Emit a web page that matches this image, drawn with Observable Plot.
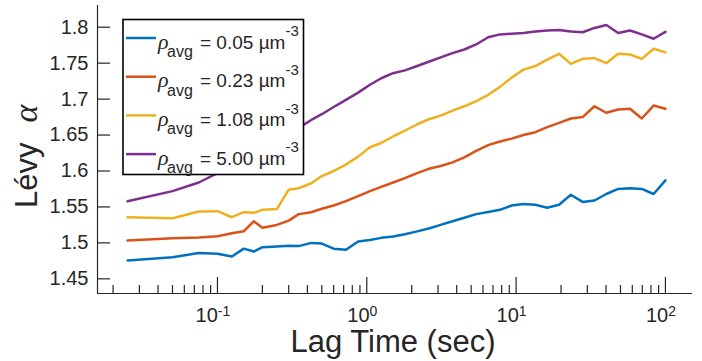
<!DOCTYPE html>
<html>
<head>
<meta charset="utf-8">
<script src="https://cdn.jsdelivr.net/npm/d3@7"></script>
<script src="https://cdn.jsdelivr.net/npm/@observablehq/plot@0.6"></script>
<style>
  html, body { margin: 0; padding: 0; background: #fff; }
  #chart svg { display: block; }
</style>
</head>
<body>
<div id="chart"></div>
<script>
// Lag times (s) at which the Lévy exponent was estimated
const lagTime = [0.025, 0.05, 0.075, 0.1, 0.125, 0.15, 0.175, 0.2, 0.25, 0.3, 0.35, 0.425,
  0.5, 0.6, 0.725, 0.875, 1.05, 1.25, 1.5, 1.8, 2.175, 2.6, 3.125, 3.75, 4.5, 5.4, 6.5,
  7.8, 9.35, 11.2, 13.45, 16.15, 19.4, 23.25, 27.9, 33.5, 40.2, 48.25, 57.9, 69.45, 83.35, 100];

// Average densities (µm^-3), one curve each
const densities = ["0.05", "0.23", "1.08", "5.00"];

const alphaRho005 = [1.4755, 1.480, 1.486, 1.485, 1.481, 1.492, 1.488, 1.494, 1.495, 1.496, 1.4955, 1.500,
  1.499, 1.492, 1.4905, 1.502, 1.504, 1.507, 1.509, 1.512, 1.516, 1.520, 1.525, 1.530, 1.535, 1.540, 1.543,
  1.546, 1.552, 1.554, 1.553, 1.549, 1.553, 1.567, 1.557, 1.559, 1.568, 1.575, 1.576, 1.575, 1.568, 1.587];

const alphaRho023 = [1.5033, 1.5065, 1.5075, 1.5093, 1.5135, 1.5162, 1.530, 1.521, 1.525, 1.531, 1.540, 1.5427,
  1.5474, 1.552, 1.558, 1.565, 1.572, 1.578, 1.584, 1.590, 1.597, 1.603, 1.607, 1.612, 1.619, 1.628, 1.636,
  1.641, 1.645, 1.650, 1.654, 1.661, 1.667, 1.673, 1.675, 1.690, 1.681, 1.6855, 1.6865, 1.673, 1.691, 1.6865];

const alphaRho108 = [1.5357, 1.5343, 1.5437, 1.5441, 1.5357, 1.5427, 1.5418, 1.546, 1.547, 1.574, 1.576, 1.583,
  1.593, 1.600, 1.609, 1.620, 1.633, 1.639, 1.648, 1.656, 1.665, 1.672, 1.677, 1.684, 1.690, 1.697, 1.706,
  1.717, 1.730, 1.741, 1.746, 1.755, 1.763, 1.749, 1.756, 1.757, 1.750, 1.763, 1.762, 1.756, 1.770, 1.765];

const alphaRho500 = [1.558, 1.572, 1.584, 1.597, 1.606, 1.614, 1.621, 1.627, 1.639, 1.650, 1.660, 1.671,
  1.679, 1.689, 1.699, 1.709, 1.720, 1.729, 1.736, 1.740, 1.746, 1.752, 1.758, 1.764, 1.769, 1.776, 1.786,
  1.790, 1.791, 1.792, 1.794, 1.7955, 1.796, 1.794, 1.793, 1.799, 1.803, 1.792, 1.7955, 1.790, 1.784, 1.7936];

const seriesColors = ["#0072BD", "#D95319", "#EDB120", "#7E2F8E"];

// Axis ticks and labels
const yTicks = [1.45, 1.5, 1.55, 1.6, 1.65, 1.7, 1.75, 1.8];
const xMajorTicks = [0.1, 1, 10, 100];
const xTickLabels = ["10^-1", "10^0", "10^1", "10^2"];
const xMinorTicks = [0.02, 0.03, 0.04, 0.05, 0.06, 0.07, 0.08, 0.09,
  0.2, 0.3, 0.4, 0.5, 0.6, 0.7, 0.8, 0.9,
  2, 3, 4, 5, 6, 7, 8, 9,
  20, 30, 40, 50, 60, 70, 80, 90];
const xDomain = [0.01573, 151.8];
const yDomain = [1.4296, 1.8302];

const ink = "#262626";
const sans = "'Liberation Sans', Arial, Helvetica, sans-serif";
const serif = "'Liberation Serif', 'Times New Roman', serif";

// Long-format table for the line mark
const seriesValues = [alphaRho005, alphaRho023, alphaRho108, alphaRho500];
const rows = [];
densities.forEach((rho, s) => {
  lagTime.forEach((t, i) => rows.push({t, alpha: seriesValues[s][i], rho}));
});

const W = 702, H = 361;
const mL = 97, mR = 10, mT = 5, mB = 68;
const frameW = W - mL - mR, frameH = H - mT - mB;

const plot = Plot.plot({
  width: W,
  height: H,
  marginLeft: mL,
  marginRight: mR,
  marginTop: mT,
  marginBottom: mB,
  style: {fontFamily: sans, color: ink, background: "white", overflow: "visible"},
  x: {type: "log", domain: xDomain},
  y: {domain: yDomain},
  color: {domain: densities, range: seriesColors},
  marks: [
    Plot.line(rows, {x: "t", y: "alpha", stroke: "rho", strokeWidth: 2.5}),
    // axis lines
    Plot.ruleX([xDomain[0]], {stroke: ink, strokeWidth: 1.2}),
    Plot.ruleY([yDomain[0]], {stroke: ink, strokeWidth: 1.2}),
    // inward ticks
    Plot.tickY(yTicks, {y: d => d, stroke: ink, strokeWidth: 1.2, insetRight: frameW - 13}),
    Plot.tickX(xMajorTicks, {x: d => d, stroke: ink, strokeWidth: 1.2, insetTop: frameH - 16}),
    Plot.tickX(xMinorTicks, {x: d => d, stroke: ink, strokeWidth: 1.2, insetTop: frameH - 8}),
    // tick labels
    Plot.axisY(yTicks, {tickSize: 0, tickPadding: 9, fontSize: 20, label: null, tickFormat: d => String(d)}),
    Plot.axisX(xMajorTicks, {tickSize: 0, tickPadding: 14, fontSize: 20, label: null, dx: -4.5,
      tickFormat: d => xTickLabels[xMajorTicks.indexOf(d)]})
  ]
});

const svg = d3.select(plot);

// Powers of ten: raise the exponent
svg.selectAll('g[aria-label="x-axis tick label"] text').each(function () {
  const [base, exp] = this.textContent.split("^");
  const t = d3.select(this);
  t.text(base);
  t.append("tspan").attr("dy", "-0.42em").attr("font-size", 14).text(exp);
});

// Axis titles
svg.append("text")
  .attr("x", 393).attr("y", 352)
  .attr("text-anchor", "middle")
  .attr("font-family", sans).attr("font-size", 31).attr("fill", ink)
  .text("Lag Time (sec)");

const yTitle = svg.append("text")
  .attr("transform", "translate(37,208) rotate(-90)")
  .attr("text-anchor", "start")
  .attr("font-family", sans).attr("font-size", 31).attr("fill", ink);
yTitle.append("tspan").text("Lévy");
yTitle.append("tspan").attr("dx", 20)
  .attr("font-family", serif).attr("font-style", "italic").attr("font-size", 34)
  .text("α");

// Legend box, drawn over the curves
const color = plot.scale("color");
const lg = svg.append("g")
  .attr("font-family", sans).attr("fill", ink).attr("text-anchor", "start");
lg.append("rect")
  .attr("x", 123).attr("y", 19.5).attr("width", 180.5).attr("height", 155)
  .attr("fill", "white").attr("stroke", "#000").attr("stroke-width", 1.6);
densities.forEach((rho, i) => {
  const ly = 38 + i * 38.7;
  const b = ly + 10.7;
  lg.append("line")
    .attr("x1", 126).attr("x2", 156).attr("y1", ly).attr("y2", ly)
    .attr("stroke", color.apply(rho)).attr("stroke-width", 2.5);
  const t = lg.append("text").attr("font-size", 19);
  t.append("tspan").attr("x", 158).attr("y", b)
    .attr("font-family", serif).attr("font-style", "italic").attr("font-size", 22).text("ρ");
  t.append("tspan").attr("x", 167).attr("y", b + 8.3).attr("font-size", 16).text("avg");
  t.append("tspan").attr("x", 200).attr("y", b).text(`= ${rho} µm`);
  t.append("tspan").attr("y", b - 12.5).attr("font-size", 15).text("-3");
});

document.getElementById("chart").appendChild(plot);
</script>
</body>
</html>
